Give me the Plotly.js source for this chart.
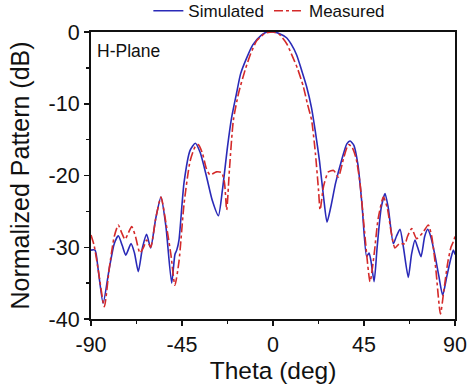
<!DOCTYPE html>
<html>
<head>
<meta charset="utf-8">
<script src="https://cdn.plot.ly/plotly-3.0.1.min.js"></script>
<style>html,body{margin:0;padding:0;background:#fff;}#chart{width:468px;height:389px;}</style>
</head>
<body>
<div id="chart"></div>
<script>
const simTheta = [-90,-88,-86.5,-84,-81,-78.5,-76.5,-74.5,-72.8,-70.2,-68.5,-66.6,-64.5,-62.5,-60.5,-58,-55.4,-53,-50.1,-48.5,-47.6,-46.5,-44,-41,-38.4,-36,-33,-30,-27,-25,-22.5,-20.5,-18,-16,-13,-10,-6,-3,0,3,6.7,9,11.7,14,16.6,19,21,23,25,26.7,28.5,31,34,36.5,38.1,40,42,44,46.3,47.5,48.5,50,51.5,53.5,55.4,57,59.5,61,62.8,64.5,66.9,68.5,70.2,71.5,73.2,75,76.5,78,80,82,83.9,86,88,89.2,90];
const simDB = [-30.4,-30.4,-33,-37.8,-33,-29.5,-28.4,-29.8,-31.1,-29.5,-30.8,-33.4,-30,-28.2,-30.1,-26,-23,-27,-35,-31,-30.4,-29,-21,-16.5,-15.5,-16.8,-20,-23.5,-25.6,-22,-16,-12,-8.5,-5.8,-3.6,-1.8,-0.5,0,0,-0.2,-0.8,-1.7,-3.2,-5.2,-7.6,-10.5,-14,-18,-23,-26.5,-24.5,-21,-17.8,-15.6,-15.2,-15.8,-18.5,-24,-31.3,-30.8,-32,-34.8,-30,-24.5,-22.5,-24.5,-29.5,-28.5,-27.5,-30,-34.2,-31,-29,-30,-31.3,-28.5,-27.5,-28.5,-31,-34,-36.7,-34,-31.5,-30.4,-31];
const measTheta = [-90,-88.5,-86.5,-83.4,-81,-78.5,-76.5,-74.8,-73.2,-71.5,-69.9,-68,-65.8,-64,-62.5,-60.5,-58,-55.4,-53,-50.5,-48.5,-46.5,-44,-41,-38.5,-37,-35,-33,-31.2,-28,-25.4,-24,-22.9,-21.5,-19.6,-17,-13.8,-11,-8,-4,0,3,6.7,9,12,15,17,19.1,21,22.5,23.3,25,27.4,30,32.3,35,37.3,39,41,43,45,48,50,52,54.6,56.5,58.5,60.3,62.5,65.3,66.5,68.6,71,74,76.8,78.5,80.5,82.8,84.5,86.5,88,89.2,90];
const measDB = [-28.3,-29.7,-33,-38.3,-33,-28.5,-26.9,-28,-28.9,-28,-27.1,-28.5,-30.8,-30,-29,-30,-26,-23,-26.5,-31,-35.3,-32,-24,-18,-16,-15.7,-16.8,-19,-19.9,-19.5,-19.6,-21,-24.8,-19,-12.3,-8.5,-5.3,-3,-1.2,-0.2,0,-0.3,-1.6,-3,-5,-7.6,-10,-12.3,-17,-22,-24.8,-21.5,-19.5,-19.3,-20.2,-17.5,-15.7,-16,-17.5,-21,-27,-34.8,-31,-26,-23,-24.5,-28,-30.1,-29.5,-29.5,-28.5,-27.4,-28.8,-28,-26.9,-28.5,-33,-39.3,-36,-32,-30,-29.2,-28.5];
const xTicks = [-90,-45,0,45,90];
const yTicks = [-40,-30,-20,-10,0];

const traces = [
  {x: simTheta, y: simDB, name: 'Simulated', mode: 'lines', line: {color: '#2a2ab8', width: 1.6, shape: 'spline', smoothing: 0.6}},
  {x: measTheta, y: measDB, name: 'Measured', mode: 'lines', line: {color: '#d42a2a', width: 1.6, dash: 'dashdot', shape: 'spline', smoothing: 0.6}}
];
const fontFam = 'Liberation Sans, Arial, sans-serif';
const layout = {
  width: 468, height: 389,
  margin: {l: 91, r: 13, t: 32, b: 70, autoexpand: false},
  paper_bgcolor: '#fff', plot_bgcolor: '#fff',
  font: {family: fontFam, color: '#111'},
  showlegend: true,
  legend: {orientation: 'h', x: 0.49, xanchor: 'center', y: 1.01, yanchor: 'bottom', font: {size: 17, family: fontFam}, bgcolor: 'rgba(0,0,0,0)', itemwidth: 30, tracegroupgap: 0},
  xaxis: {
    range: [-90, 90], tickvals: xTicks, ticktext: xTicks.map(String),
    ticks: 'outside', ticklen: 5, tickwidth: 1.5, tickcolor: '#111',
    minor: {dtick: 22.5, tick0: -90, ticks: 'outside', ticklen: 3, tickwidth: 1.5, tickcolor: '#111'},
    showline: true, linecolor: '#111', linewidth: 2, mirror: true,
    showgrid: false, zeroline: false,
    tickfont: {size: 21.5, family: fontFam}, 
    title: {text: 'Theta (deg)', font: {size: 24.5, family: fontFam}, standoff: 3}
  },
  yaxis: {
    range: [-40, 0], tickvals: yTicks, ticktext: yTicks.map(String),
    ticks: 'outside', ticklen: 5, tickwidth: 1.5, tickcolor: '#111',
    minor: {dtick: 5, tick0: 0, ticks: 'outside', ticklen: 3, tickwidth: 1.5, tickcolor: '#111'},
    showline: true, linecolor: '#111', linewidth: 2, mirror: true,
    showgrid: false, zeroline: false,
    tickfont: {size: 21.5, family: fontFam},
    title: {text: 'Normalized Pattern (dB)', font: {size: 25, family: fontFam}, standoff: 12}
  },
  annotations: [{text: 'H-Plane', xref: 'paper', yref: 'paper', x: 0.012, y: 0.975, xanchor: 'left', yanchor: 'top', showarrow: false, font: {size: 17.5, family: fontFam, color: '#111'}}]
};
Plotly.newPlot('chart', traces, layout, {displayModeBar: false, staticPlot: true});
</script>
</body>
</html>
